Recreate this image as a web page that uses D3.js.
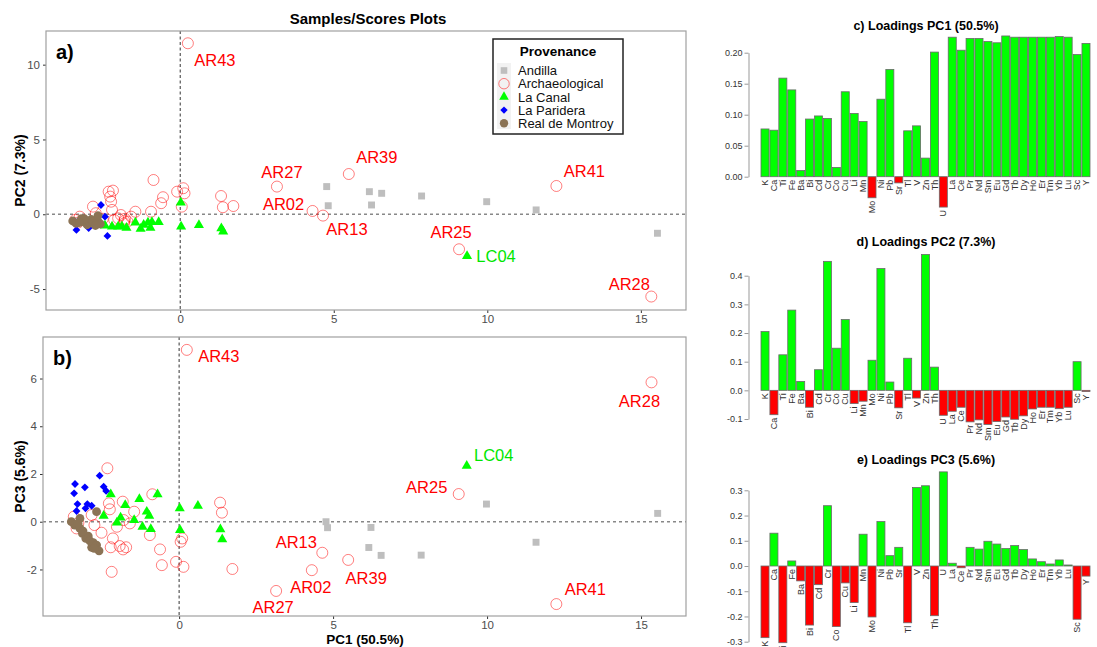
<!DOCTYPE html>
<html><head><meta charset="utf-8">
<script src="https://cdn.jsdelivr.net/npm/d3@7"></script>
<style>body{margin:0;background:#fff}svg{display:block}text{font-family:"Liberation Sans",Arial,sans-serif}</style>
</head><body><svg id="c" width="1097" height="647"></svg>
<script>
// ---------- DATA ----------
const elements = ["K","Ca","Ti","Fe","Ba","Bi","Cd","Cr","Co","Cu","Li","Mn","Mo","Ni","Pb","Sr","Tl","V","Zn","Th","U","La","Ce","Pr","Nd","Sm","Eu","Gd","Tb","Dy","Ho","Er","Tm","Yb","Lu","Sc","Y"];
const loadPC1 = [0.077,0.075,0.159,0.140,0.010,0.093,0.098,0.094,0.015,0.137,0.102,0.089,-0.034,0.125,0.173,-0.010,0.074,0.082,0.030,0.201,-0.049,0.225,0.204,0.223,0.223,0.218,0.216,0.227,0.225,0.225,0.225,0.225,0.225,0.226,0.225,0.197,0.215];
const loadPC2 = [0.205,-0.085,0.124,0.280,0.031,-0.059,0.072,0.450,0.147,0.247,-0.046,-0.038,0.105,0.425,0.029,-0.061,0.112,-0.027,0.474,0.081,-0.087,-0.073,-0.059,-0.110,-0.103,-0.119,-0.109,-0.093,-0.101,-0.089,-0.065,-0.059,-0.059,-0.064,-0.059,0.100,-0.004];
const loadPC3 = [-0.284,0.130,-0.304,0.020,-0.059,-0.234,-0.074,0.239,-0.240,-0.067,-0.145,0.126,-0.202,0.176,0.041,0.074,-0.225,0.311,0.318,-0.197,0.373,0.011,-0.007,0.074,0.067,0.098,0.087,0.069,0.081,0.065,0.028,0.017,0.008,0.024,0.004,-0.211,-0.040];

const groups = ["Andilla","Archaeological","La Canal","La Paridera","Real de Montroy"];

const andPC1 = [4.77,4.82,6.16,6.23,6.56,7.86,9.98,11.59,15.54];
const andPC2 = [1.85,0.57,1.51,0.62,1.40,1.22,0.84,0.29,-1.27];
const andPC3 = [0.00,-0.25,-1.08,-0.24,-1.41,-1.40,0.74,-0.86,0.35];

const archPC1 = [-3.42,-3.33,-3.27,-2.84,-2.75,-2.52,-2.33,-2.28,-2.25,-2.22,-2.19,-2.15,-2.02,-1.93,-1.83,-1.82,-1.80,-1.72,-1.60,-1.46,-0.95,-0.87,-0.62,-0.56,-0.10,0.05,0.10,0.14,1.33,1.39,1.73];
const archPC2 = [-0.38,-0.56,-0.16,0.51,0.07,-0.30,1.51,1.18,0.84,0.29,1.58,-0.38,-0.27,-0.05,-0.60,-0.45,-0.30,-0.49,-0.16,0.17,0.17,2.29,0.74,1.14,1.51,0.51,1.74,1.40,1.22,0.47,0.55];
const archPC3 = [0.21,-0.28,-0.05,0.28,-0.14,-0.46,2.24,0.77,0.52,-1.07,-2.10,-0.70,-0.21,-1.02,0.84,-1.16,0.07,-1.07,-0.07,0.42,-0.56,1.15,-1.16,-1.82,-1.68,-0.84,-0.70,-1.89,0.80,0.38,-1.98];

const archLabelNames = ["AR43","AR27","AR02","AR13","AR39","AR41","AR25","AR28"];
const archLabelPC1 = [0.25,3.15,4.31,4.65,5.49,12.25,9.08,15.34];
const archLabelPC2 = [11.43,1.85,0.22,-0.09,2.69,1.89,-2.34,-5.50];
const archLabelPC3 = [7.20,-2.90,-2.03,-1.30,-1.60,-3.45,1.16,5.84];

const canalPC1 = [-2.45,-2.22,-2.02,-1.90,-1.75,-1.46,-1.29,-1.19,-1.05,-0.97,-0.92,-0.70,0.02,0.03,0.61,1.34,1.40];
const canalPC2 = [-0.76,-0.83,-0.83,-0.80,-0.90,-0.56,-0.98,-0.70,-0.56,-0.90,-0.53,-0.53,0.78,-0.83,-0.72,-0.94,-1.16];
const canalPC3 = [0.25,1.15,-0.04,0.17,0.70,0.07,0.95,-0.21,0.42,0.25,-0.31,1.15,0.56,-0.35,0.67,-0.32,-0.74];
const canalLabelNames = ["LC04"];
const canalLabelPC1 = [9.34];
const canalLabelPC2 = [-2.79];
const canalLabelPC3 = [2.34];

const parPC1 = [-3.38,-3.41,-3.33,-3.30,-3.06,-3.04,-2.98,-2.84,-2.58,-2.45,-2.37];
const parPC2 = [-1.05,-0.50,-0.60,-0.45,-0.55,-0.40,-0.92,-0.50,0.62,-0.16,-1.45];
const parPC3 = [1.58,1.19,0.45,0.74,1.44,0.56,0.74,0.67,1.93,1.47,1.29];

const monPC1 = [-3.50,-3.22,-3.39,-3.22,-3.14,-3.03,-2.95,-2.90,-2.79,-2.84,-2.68,-2.60,-2.68,-2.76,-3.12,-3.28];
const monPC2 = [-0.45,-0.30,-0.60,-0.50,-0.40,-0.70,-0.55,-0.35,-0.60,-0.50,-0.45,-0.65,-0.10,-0.75,-0.30,-0.55];
const monPC3 = [0.00,0.14,-0.14,-0.28,-0.49,-0.70,-0.60,-0.80,-0.88,-1.07,-0.98,-1.22,0.42,-1.12,-0.39,-0.07];

const scatterXTicks = [0,5,10,15];
const pc2Ticks = [-5,0,5,10];
const pc3Ticks = [-2,0,2,4,6];

// ---------- BUILD ROWS ----------
function rows(group, p1, p2, p3, names){
  return p1.map((v,i)=>({group, pc1:v, pc2:p2[i], pc3:p3[i], name: names ? names[i] : null}));
}
const samples = [].concat(
  rows("Andilla", andPC1, andPC2, andPC3),
  rows("Archaeological", archPC1, archPC2, archPC3),
  rows("Archaeological", archLabelPC1, archLabelPC2, archLabelPC3, archLabelNames),
  rows("La Canal", canalPC1, canalPC2, canalPC3),
  rows("La Canal", canalLabelPC1, canalLabelPC2, canalLabelPC3, canalLabelNames),
  rows("La Paridera", parPC1, parPC2, parPC3),
  rows("Real de Montroy", monPC1, monPC2, monPC3)
);

// ---------- STYLE ----------
const FONT = '"Liberation Sans",Arial,sans-serif';
const svg = d3.select("#c");
svg.append("rect").attr("width",1097).attr("height",647).attr("fill","#fff");

const diamond = r => `M0,${-r}L${r},0L0,${r}L${-r},0Z`;

function drawMark(sel, group, scale){
  scale = scale || 1;
  if(group==="Andilla"){
    sel.append("path").attr("d", d3.symbol(d3.symbolSquare, 48*scale*scale)()).attr("fill","#bebebe");
  } else if(group==="Archaeological"){
    sel.append("circle").attr("r",5.5*scale).attr("fill","none").attr("stroke","#ff0000").attr("stroke-opacity",0.5).attr("stroke-width",1);
  } else if(group==="La Canal"){
    sel.append("path").attr("d", d3.symbol(d3.symbolTriangle, 44*scale*scale)()).attr("fill","#00ff00");
  } else if(group==="La Paridera"){
    sel.append("path").attr("d", diamond(3.9*scale)).attr("fill","#0000ff");
  } else {
    sel.append("circle").attr("r",4.4*scale).attr("fill","#8b7355");
  }
}
const labelColor = {"Archaeological":"#ff0000","La Canal":"#00e600"};

// label layout (pixel offsets from point), per panel
const labelOffA = {AR43:[27,17],AR27:[5,-15],AR02:[-29,-7],AR13:[24,13],AR39:[28,-17],AR41:[28,-15],AR25:[-8,-17],AR28:[-22,-12],LC04:[29,0]};
const labelOffB = {AR43:[32,6],AR13:[-26,-11],AR02:[-1,17],AR27:[-3,16],AR39:[18,18],AR41:[29,-15],AR25:[-32,-7],AR28:[-12,19],LC04:[27,-11]};

function scatter(cfg){
  const x = d3.scaleLinear().domain(cfg.xDom).range([cfg.left,cfg.right]);
  const y = d3.scaleLinear().domain(cfg.yDom).range([cfg.bottom,cfg.top]);
  const g = svg.append("g");
  g.append("line").attr("x1",x(0)).attr("x2",x(0)).attr("y1",cfg.top).attr("y2",cfg.bottom)
    .attr("stroke","#333").attr("stroke-width",1).attr("stroke-dasharray","3,2.5");
  g.append("line").attr("x1",cfg.left).attr("x2",cfg.right).attr("y1",y(0)).attr("y2",y(0))
    .attr("stroke","#888").attr("stroke-width",1.6).attr("stroke-dasharray","3,3");
  const ax = g.append("g").attr("transform",`translate(0,${cfg.bottom})`)
    .call(d3.axisBottom(x).tickValues(scatterXTicks).tickSize(3).tickPadding(2).tickFormat(d=>String(d)));
  const ay = g.append("g").attr("transform",`translate(${cfg.left},0)`)
    .call(d3.axisLeft(y).tickValues(cfg.yTicks).tickSize(3).tickPadding(3).tickFormat(d=>String(d)));
  [ax,ay].forEach(a=>{
    a.select(".domain").remove();
    a.selectAll(".tick line").attr("stroke","#333");
    a.selectAll(".tick text").attr("fill","#4d4d4d").style("font-size","11.5px").style("font-family",FONT);
  });
  groups.forEach(gr=>{
    samples.filter(s=>s.group===gr).forEach(s=>{
      const p = g.append("g").attr("transform",`translate(${x(s.pc1)},${y(s[cfg.key])})`);
      drawMark(p, gr);
    });
  });
  samples.filter(s=>s.name).forEach(s=>{
    const o = cfg.labelOff[s.name];
    g.append("text").attr("x",x(s.pc1)+o[0]).attr("y",y(s[cfg.key])+o[1]).attr("dy","0.36em")
      .attr("text-anchor","middle").attr("fill",labelColor[s.group]).style("font-size","16.5px").text(s.name);
  });
  g.append("rect").attr("x",cfg.left).attr("y",cfg.top).attr("width",cfg.right-cfg.left).attr("height",cfg.bottom-cfg.top)
    .attr("fill","none").attr("stroke","#a0a0a0").attr("stroke-width",1.2);
  g.append("text").attr("x",cfg.left+10).attr("y",cfg.top+28).attr("font-weight","bold").style("font-size","20px").attr("fill","#000").text(cfg.tag);
  g.append("text").attr("transform",`translate(${cfg.yLabX},${(cfg.top+cfg.bottom)/2}) rotate(-90)`)
    .attr("text-anchor","middle").attr("dy","0.36em").attr("font-weight","bold").style("font-size","14px").text(cfg.yLab);
  return {x,y};
}

svg.append("text").attr("x",368).attr("y",24).attr("text-anchor","middle").attr("font-weight","bold").style("font-size","15px").text("Samples/Scores Plots");

scatter({left:46,right:686,top:31,bottom:310,xDom:[-4.37,16.47],yDom:[-6.4,12.25],yTicks:pc2Ticks,key:"pc2",labelOff:labelOffA,tag:"a)",yLab:"PC2 (7.3%)",yLabX:20});
scatter({left:43,right:686,top:337,bottom:616,xDom:[-4.42,16.46],yDom:[-3.95,7.74],yTicks:pc3Ticks,key:"pc3",labelOff:labelOffB,tag:"b)",yLab:"PC3 (5.6%)",yLabX:20});

svg.append("text").attr("x",365).attr("y",644).attr("text-anchor","middle").attr("font-weight","bold").style("font-size","13.5px").text("PC1 (50.5%)");

// legend
const lg = svg.append("g");
lg.append("rect").attr("x",493).attr("y",39).attr("width",130).attr("height",95).attr("fill","#fff").attr("stroke","#222").attr("stroke-width",1.5);
lg.append("text").attr("x",558).attr("y",56).attr("text-anchor","middle").attr("font-weight","bold").style("font-size","13.5px").text("Provenance");
lg.append("rect").attr("x",497).attr("y",63).attr("width",14).attr("height",66).attr("fill","#f2f2f2");
groups.forEach((gr,i)=>{
  const yy = 70.5 + i*13.2;
  const p = lg.append("g").attr("transform",`translate(504,${yy})`);
  drawMark(p, gr, 0.95);
  lg.append("text").attr("x",518).attr("y",yy).attr("dy","0.36em").style("font-size","13px").attr("fill","#111").text(gr);
});

// ---------- LOADINGS ----------
function loadings(cfg){
  const x = d3.scaleBand().domain(elements).range([761,1090]).paddingInner(0.1).paddingOuter(0);
  const y = d3.scaleLinear().domain(cfg.yDom).range(cfg.yRange);
  const g = svg.append("g");
  g.append("text").attr("x",926).attr("y",cfg.titleY).attr("dy","0.36em").attr("text-anchor","middle")
    .attr("font-weight","bold").style("font-size","12.5px").text(cfg.title);
  const ay = g.append("g").attr("transform","translate(748.5,0)")
    .call(d3.axisLeft(y).tickValues(cfg.ticks).tickSize(4).tickSizeOuter(0).tickPadding(2).tickFormat(cfg.fmt));
  ay.select(".domain").attr("stroke","#999");
  ay.selectAll(".tick line").attr("stroke","#999");
  ay.selectAll(".tick text").attr("fill","#333").style("font-size","9px").style("font-family",FONT);
  cfg.values.forEach((v,i)=>{
    const el = elements[i];
    g.append("rect").attr("x",x(el)).attr("width",x.bandwidth())
      .attr("y",y(Math.max(0,v))).attr("height",Math.abs(y(v)-y(0)))
      .attr("fill", v>=0 ? "#00ff00" : "#ff0000").attr("stroke","#6a6a6a").attr("stroke-width",0.8);
    const ty = y(Math.min(0,v)) + 3;
    const tx = x(el) + x.bandwidth()/2;
    g.append("text").attr("transform",`translate(${tx},${ty}) rotate(-90)`).attr("text-anchor","end").attr("dy","0.35em")
      .attr("fill","#333").style("font-size","9px").text(el);
  });
}
loadings({values:loadPC1,yDom:[0,0.2],yRange:[176.7,52.7],ticks:[0,0.05,0.1,0.15,0.2],fmt:d=>d.toFixed(2),title:"c) Loadings PC1 (50.5%)",titleY:25});
loadings({values:loadPC2,yDom:[-0.1,0.4],yRange:[419,275.7],ticks:[-0.1,0,0.1,0.2,0.3,0.4],fmt:d=>d.toFixed(1),title:"d) Loadings PC2 (7.3%)",titleY:241.5});
loadings({values:loadPC3,yDom:[-0.3,0.3],yRange:[641.7,490.3],ticks:[-0.3,-0.2,-0.1,0,0.1,0.2,0.3],fmt:d=>d.toFixed(1),title:"e) Loadings PC3 (5.6%)",titleY:459});
</script></body></html>
